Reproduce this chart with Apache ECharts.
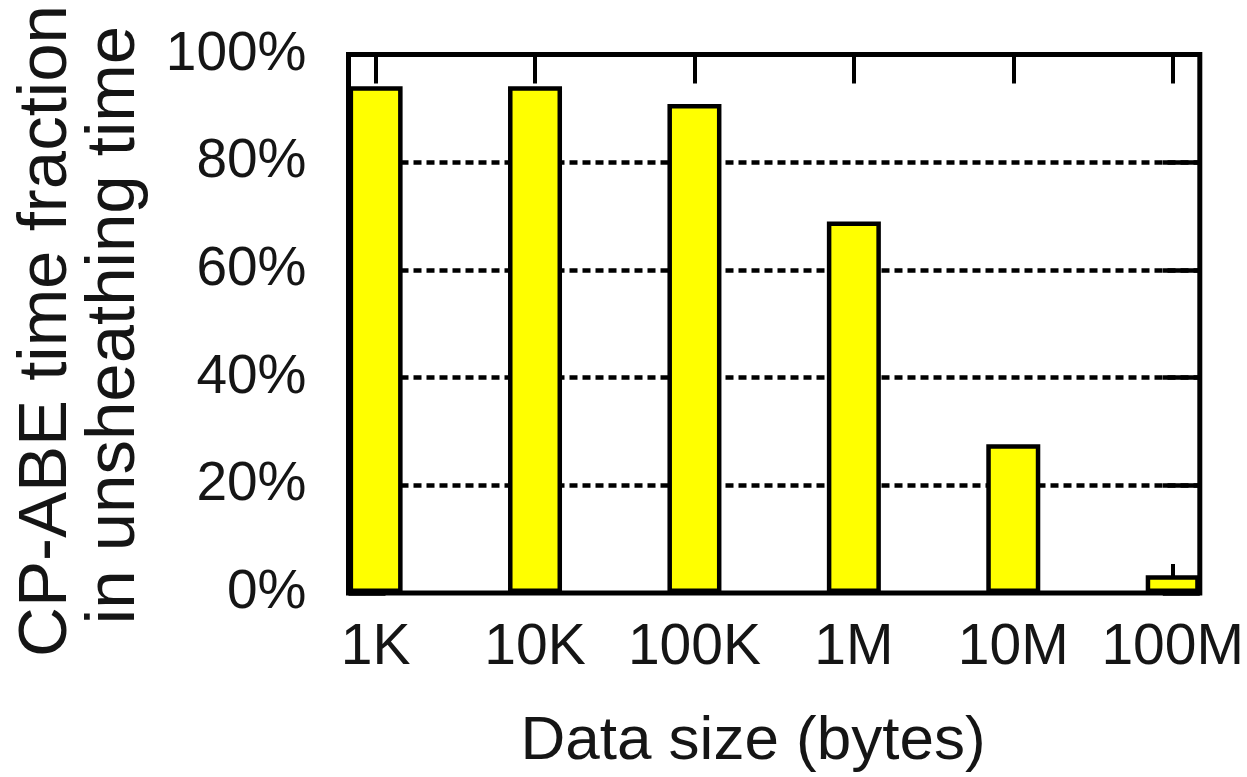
<!DOCTYPE html>
<html>
<head>
<meta charset="utf-8">
<title>CP-ABE time fraction</title>
<script src="https://cdn.jsdelivr.net/npm/echarts@6/dist/echarts.min.js"></script>
<style>
  html, body { margin: 0; padding: 0; background: #fff; }
  #chart { width: 1247px; height: 777px; }
</style>
</head>
<body>
<div id="chart"></div>
<script>
// Data sizes along the x axis
const categories = ['1K', '10K', '100K', '1M', '10M', '100M'];
// Share of unsheathing time spent in CP-ABE, in percent
const fractions = [94.1, 94.1, 90.8, 69.0, 27.6, 3.3];
// Percent ticks on the y axis
const yMin = 0, yMax = 100, yStep = 20;

const FONT = '"Liberation Sans", Arial, Helvetica, sans-serif';
const INK = '#151515';

const positions = categories.map((_, i) => i);
const barData = fractions.map((v, i) => [i, v]);

const chart = echarts.init(document.getElementById('chart'), null, { renderer: 'canvas' });

// Shared settings for the bottom and top x axes (ticks point into the plot)
const xCommon = {
  type: 'value',
  min: -0.17,
  max: 5.17,
  axisLine: { show: false, onZero: false },
  splitLine: { show: false },
  axisTick: {
    show: true, inside: true, length: 29,
    customValues: positions,
    lineStyle: { color: '#000', width: 4 }
  }
};

// Shared settings for the left and right y axes
const yCommon = {
  type: 'value',
  min: yMin, max: yMax, interval: yStep,
  axisLine: { show: false, onZero: false },
  axisTick: { show: true, inside: true, length: 37, lineStyle: { color: '#000', width: 4.5 } }
};

chart.setOption({
  animation: false,
  backgroundColor: '#fff',
  grid: {
    left: 348.5, top: 54.5, right: 46.5, bottom: 184,
    show: true, borderColor: '#000', borderWidth: 5,
    backgroundColor: 'transparent'
  },
  xAxis: [
    Object.assign({}, xCommon, {
      position: 'bottom',
      axisLabel: {
        show: true, margin: 27,
        customValues: positions,
        formatter: v => categories[Math.round(v)],
        fontFamily: FONT, fontSize: 57, color: INK
      }
    }),
    Object.assign({}, xCommon, {
      position: 'top',
      axisLabel: { show: false }
    })
  ],
  yAxis: [
    Object.assign({}, yCommon, {
      position: 'left',
      axisLabel: {
        formatter: '{value}%', margin: 42,
        fontFamily: FONT, fontSize: 55, color: INK
      },
      splitLine: {
        show: true, showMinLine: false, showMaxLine: false,
        lineStyle: { color: '#000', width: 4.5, type: [8, 5] }
      }
    }),
    Object.assign({}, yCommon, {
      position: 'right',
      axisLabel: { show: false },
      splitLine: { show: false }
    })
  ],
  series: [{
    type: 'bar',
    xAxisIndex: 0,
    yAxisIndex: 0,
    data: barData,
    barWidth: 54,
    clip: false,
    itemStyle: { color: '#ffff00', borderColor: '#000', borderWidth: 4.5 }
  }],
  graphic: [
    {
      type: 'text', x: 753, y: 742,
      style: {
        text: 'Data size (bytes)', font: '62px ' + FONT, fill: INK,
        align: 'center', verticalAlign: 'middle'
      }
    },
    {
      type: 'text', x: 47, y: 331, rotation: Math.PI / 2,
      style: {
        text: 'CP-ABE time fraction', font: '69px ' + FONT, fill: INK,
        align: 'center', verticalAlign: 'middle'
      }
    },
    {
      type: 'text', x: 115, y: 325, rotation: Math.PI / 2,
      style: {
        text: 'in unsheathing time', font: '69px ' + FONT, fill: INK,
        align: 'center', verticalAlign: 'middle'
      }
    }
  ]
});
</script>
</body>
</html>
